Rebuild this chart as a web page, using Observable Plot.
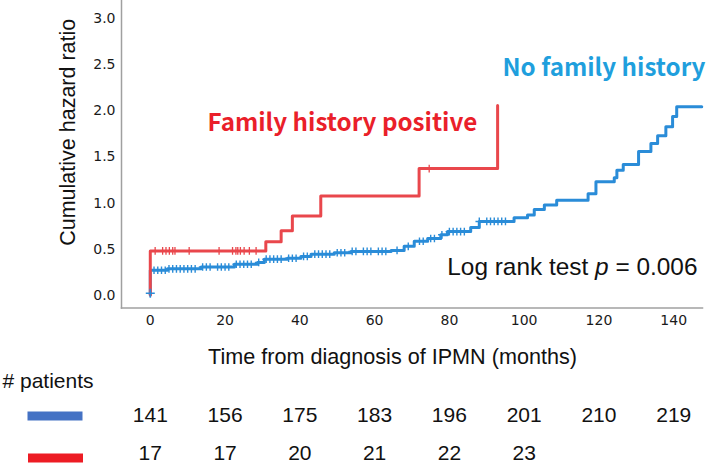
<!DOCTYPE html>
<html>
<head>
<meta charset="utf-8">
<script src="https://cdn.jsdelivr.net/npm/d3@7"></script>
<script src="https://cdn.jsdelivr.net/npm/@observablehq/plot@0.6"></script>
<style>
  html, body { margin: 0; padding: 0; background: #fff; }
  #chart { width: 709px; height: 463px; }
</style>
</head>
<body>
<div id="chart"></div>
<script>
// ---- data ----
const xTicks = [0, 20, 40, 60, 80, 100, 120, 140];
const yTicks = [0, 0.5, 1, 1.5, 2, 2.5, 3];

// No family history (blue) step function
const blueTime = [0, 0, 4.6, 13.6, 22.5, 28.7, 30.5, 36.7, 40.3, 43, 49.2, 53.7, 64.4, 67.9, 70.6, 74.2, 77.7, 79.5, 85.7, 88, 97.3, 100.9, 102.7, 105.4, 108.7, 117.1, 119.2, 124.1, 124.8, 126.5, 130.6, 133.9, 135.7, 137.9, 139.7, 140.8, 147.5];
const blueHaz  = [0, 0.27, 0.285, 0.305, 0.335, 0.355, 0.39, 0.40, 0.42, 0.445, 0.46, 0.475, 0.485, 0.53, 0.585, 0.615, 0.655, 0.69, 0.735, 0.80, 0.84, 0.87, 0.93, 0.98, 1.03, 1.10, 1.23, 1.276, 1.357, 1.42, 1.56, 1.646, 1.73, 1.83, 1.94, 2.046, 2.046];
const blueCensor = [1, 2, 3, 4, 5, 6, 7, 8, 9, 10, 11, 12, 14, 15, 16, 18, 19, 20, 21, 23, 24, 25, 26, 27, 29, 31, 32, 33, 34, 35, 37, 38, 39, 41, 42, 44, 45, 46, 47, 48, 50, 51, 52, 54, 55, 57, 58, 59, 61, 62, 63, 66, 69, 72, 73, 75, 76, 78, 80, 81, 82, 83, 84, 88, 90, 91, 92, 93, 94, 95];
const blueStartCensor = [{t: 0, h: 0.02}];

// Family history positive (red) step function
const redTime = [0, 0, 30.9, 35, 38, 45.6, 71.9, 92.9];
const redHaz  = [0, 0.48, 0.58, 0.70, 0.86, 1.077, 1.374, 2.06];
const redCensor = [1.3, 3.3, 4.2, 5.1, 6.0, 6.6, 10.4, 18.4, 22, 22.9, 23.4, 24.1, 25.1, 26.5, 28.3, 74.6];

// numbers at risk
const riskTimes = [0, 20, 40, 60, 80, 100, 120, 140];
const blueRisk = [141, 156, 175, 183, 196, 201, 210, 219];
const redRisk  = [17, 17, 20, 21, 22, 23];

// ---- helpers ----
const C = {
  blueLine: "#2a8cd8", redLine: "#e9474c",
  blueLabel: "#1f9fdd", redLabel: "#ea1f2a",
  blueSwatch: "#4472c4", redSwatch: "#ed1c24", axis: "#a0a0a0"
};
const series = (ts, hs) => ts.map((t, i) => ({t, h: hs[i]}));
const stepAt = (ts, hs, t) => { let v = hs[0]; for (let i = 0; i < ts.length; i++) if (ts[i] <= t) v = hs[i]; return v; };
const blue = series(blueTime, blueHaz);
const red = series(redTime, redHaz);
const blueCens = blueCensor.map(t => ({t, h: stepAt(blueTime, blueHaz, t)}));
const redCens = redCensor.map(t => ({t, h: stepAt(redTime, redHaz, t)}));
const swatch = {draw(ctx) { ctx.rect(-27.5, -4.5, 55, 9); }};
const sans = "'Liberation Sans', Arial, sans-serif";
const gothic = "'Noto Sans CJK JP', 'Noto Sans', sans-serif";

const plot = Plot.plot({
  width: 709,
  height: 463,
  marginLeft: 121,
  marginRight: 7,
  marginTop: 0,
  marginBottom: 155.5,
  style: {fontFamily: "'DejaVu Sans', sans-serif", fontSize: "14px", color: "#1a1a1a", background: "#fff"},
  x: {domain: [-7.7, 147.7]},
  y: {domain: [-0.14, 3.2]},
  marks: [
    Plot.frame({anchor: "left", stroke: C.axis, strokeWidth: 1.5}),
    Plot.frame({anchor: "bottom", stroke: C.axis, strokeWidth: 1.5}),
    Plot.axisX({ticks: xTicks, tickSize: 0, tickPadding: 7, label: null}),
    Plot.axisY({ticks: yTicks, tickSize: 0, tickPadding: 6, tickFormat: d3.format(".1f"), label: null}),
    // blue curve
    Plot.line(blue, {x: "t", y: "h", curve: "step-after", stroke: C.blueLine, strokeWidth: 3}),
    Plot.dot(blueCens, {x: "t", y: "h", symbol: "plus", r: 2.6, stroke: C.blueLine, strokeWidth: 1.4}),
    // red curve
    Plot.line(red, {x: "t", y: "h", curve: "step-after", stroke: C.redLine, strokeWidth: 3}),
    Plot.dot(redCens, {x: "t", y: "h", symbol: "plus", r: 2.6, stroke: C.redLine, strokeWidth: 1.3}),
    Plot.dot(blueStartCensor, {x: "t", y: "h", symbol: "plus", r: 3, stroke: C.blueLine, strokeWidth: 1.6}),
    // axis titles
    Plot.text(["Cumulative hazard ratio"], {frameAnchor: "left", textAnchor: "middle", lineAnchor: "middle", dx: -53, dy: -22, rotate: -90, fontFamily: sans, fontSize: 21.5, fill: "#111"}),
    Plot.text(["Time from diagnosis of IPMN (months)"], {frameAnchor: "bottom", textAnchor: "middle", lineAnchor: "middle", dx: -19.5, dy: 49, fontFamily: sans, fontSize: 21.6, fill: "#111"}),
    // annotations
    Plot.text(["Family history positive"], {frameAnchor: "top-left", lineAnchor: "middle", dx: 86, dy: 123, textAnchor: "start", fontFamily: gothic, fontWeight: "bold", fontSize: 24.2, fill: C.redLabel}),
    Plot.text(["No family history"], {frameAnchor: "top-right", lineAnchor: "middle", dx: 3, dy: 67.5, textAnchor: "end", fontFamily: gothic, fontWeight: "bold", fontSize: 24.2, fill: C.blueLabel}),
    Plot.text(["Log rank test p = 0.006"], {frameAnchor: "top-right", lineAnchor: "middle", dx: -5, dy: 266.5, textAnchor: "end", fontFamily: sans, fontSize: 24.4, fill: "#111"}),
    // numbers at risk table
    Plot.text(["# patients"], {frameAnchor: "bottom-left", lineAnchor: "middle", dx: -119, dy: 73, textAnchor: "start", fontFamily: sans, fontSize: 21, fill: "#111"}),
    Plot.dot(["b"], {frameAnchor: "bottom-left", dx: -66.5, dy: 108, symbol: swatch, fill: C.blueSwatch, stroke: "none"}),
    Plot.dot(["r"], {frameAnchor: "bottom-left", dx: -66, dy: 150, symbol: swatch, fill: C.redSwatch, stroke: "none"}),
    Plot.text(blueRisk, {x: (d, i) => riskTimes[i], text: d => String(d), frameAnchor: "bottom", textAnchor: "middle", lineAnchor: "middle", dy: 107, fontFamily: sans, fontSize: 21, fill: "#111"}),
    Plot.text(redRisk, {x: (d, i) => riskTimes[i], text: d => String(d), frameAnchor: "bottom", textAnchor: "middle", lineAnchor: "middle", dy: 145, fontFamily: sans, fontSize: 21, fill: "#111"})
  ]
});
document.getElementById("chart").appendChild(plot);

// italic p in the log-rank annotation
d3.select(plot).selectAll("text").each(function() {
  if (this.textContent === "Log rank test p = 0.006") {
    const el = d3.select(this);
    el.text(null);
    el.append("tspan").text("Log rank test ");
    el.append("tspan").attr("font-style", "italic").text("p");
    el.append("tspan").text(" = 0.006");
  }
});
</script>
</body>
</html>
